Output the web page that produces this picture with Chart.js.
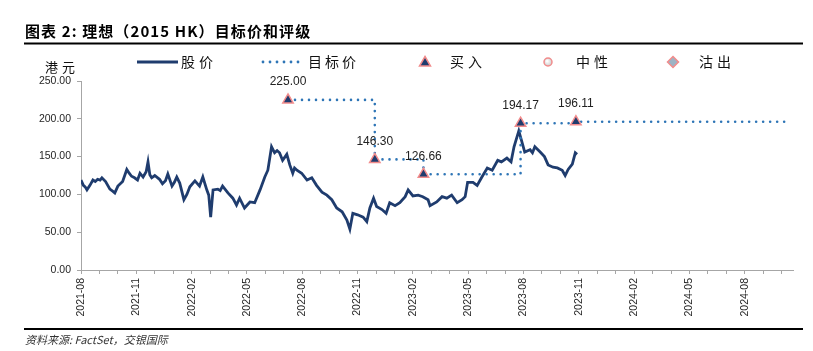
<!DOCTYPE html>
<html>
<head>
<meta charset="utf-8">
<script src="https://cdn.jsdelivr.net/npm/chart.js@4.4.1/dist/chart.umd.min.js"></script>
<style>
body{margin:0;background:#fff;}
#wrap{width:813px;height:351px;position:relative;}
</style>
</head>
<body>
<div id="wrap"><canvas id="ch1" width="813" height="351"></canvas></div>
<script>
// x axis labels, one every 3 months from 2021-08
var tickLabels = ['2021-08','2021-11','2022-02','2022-05','2022-08','2022-11','2023-02','2023-05','2023-08','2023-11','2024-02','2024-05','2024-08'];
var axisEnd = '2024-10-20';

// share price (HKD)
var priceDates = ['2021-08-01','2021-08-05','2021-08-08','2021-08-11','2021-08-16','2021-08-21','2021-08-25','2021-08-29','2021-09-02','2021-09-05','2021-09-11','2021-09-18','2021-09-23','2021-09-26','2021-10-01','2021-10-09','2021-10-16','2021-10-20','2021-10-24','2021-10-29','2021-11-03','2021-11-07','2021-11-12','2021-11-17','2021-11-20','2021-11-23','2021-11-26','2021-12-01','2021-12-09','2021-12-14','2021-12-19','2021-12-23','2021-12-30','2022-01-03','2022-01-07','2022-01-12','2022-01-19','2022-01-24','2022-01-29','2022-02-06','2022-02-13','2022-02-18','2022-02-24','2022-02-27','2022-03-02','2022-03-06','2022-03-14','2022-03-18','2022-03-22','2022-03-31','2022-04-08','2022-04-14','2022-04-19','2022-04-27','2022-05-06','2022-05-14','2022-05-23','2022-05-31','2022-06-05','2022-06-11','2022-06-16','2022-06-20','2022-06-24','2022-06-29','2022-07-06','2022-07-11','2022-07-16','2022-07-19','2022-07-23','2022-07-31','2022-08-09','2022-08-17','2022-08-25','2022-09-03','2022-09-11','2022-09-19','2022-09-27','2022-10-06','2022-10-14','2022-10-19','2022-10-24','2022-11-01','2022-11-10','2022-11-16','2022-11-21','2022-11-27','2022-12-02','2022-12-11','2022-12-18','2022-12-24','2023-01-02','2023-01-10','2023-01-19','2023-01-24','2023-02-01','2023-02-09','2023-02-16','2023-02-24','2023-02-27','2023-03-10','2023-03-19','2023-03-27','2023-04-04','2023-04-13','2023-04-21','2023-04-26','2023-04-30','2023-05-09','2023-05-16','2023-05-24','2023-06-02','2023-06-10','2023-06-19','2023-06-25','2023-07-04','2023-07-11','2023-07-16','2023-07-24','2023-07-29','2023-08-03','2023-08-12','2023-08-16','2023-08-20','2023-08-29','2023-09-05','2023-09-11','2023-09-19','2023-09-26','2023-10-04','2023-10-09','2023-10-14','2023-10-21','2023-10-26','2023-10-29'];
var priceValues = [119,112,110,106,112,119,117,120,119,122,117,107,104,102,111,117,133,128,124,122,119,128,123,130,143,126,122,125,120,114,118,127,111,116,123,115,93,100,110,118,111,123,106,99,70,106,107,105,111,102,95,86,95,82,90,89,106,123,132,163,155,158,155,145,153,139,128,135,132,128,119,122,112,103,99,93,82,77,66,54,75,73,70,64,82,95,84,80,75,89,85,89,97,106,98,99,97,93,85,90,97,95,99,89,93,97,116,116,112,123,135,132,145,143,148,143,163,184,170,156,159,155,163,156,150,139,136,135,132,125,133,140,155,153];

// target price changes (all 买入); last entry just carries the line to the end
var targetDates = ['2022-07-08','2022-11-29','2023-02-17','2023-07-27','2023-10-27','2024-10-11'];
var targetValues = [225.00,146.30,126.66,194.17,196.11,196.11];
var targetRatings = ['买入','买入','买入','买入','买入',''];

var navy = '#1F3C6E';
var dotBlue = '#2E75B6';
var pink = '#F28C8C';

function monthIndex(s){
  var p = s.split('-');
  var y = +p[0], m = +p[1], d = +p[2];
  var dim = new Date(y, m, 0).getDate();
  return (y - 2021) * 12 + (m - 8) + (d - 1) / dim;
}

var pricePts = priceDates.map(function(d, i){ return {x: monthIndex(d), y: priceValues[i]}; });
var targetPts = targetDates.map(function(d, i){ return {x: monthIndex(d), y: targetValues[i]}; });
var targetRadius = targetRatings.map(function(r){ return r ? 6 : 0; });

// draw text char by char with extra spacing
function spaced(ctx, txt, x, y, gap){
  for (var i = 0; i < txt.length; i++){
    ctx.fillText(txt[i], x, y);
    x += ctx.measureText(txt[i]).width + gap;
  }
}

var overlay = {
  id: 'overlay',
  afterDatasetsDraw: function(chart){
    var ctx = chart.ctx;
    var meta = chart.getDatasetMeta(0);
    ctx.save();
    ctx.font = '12px "Liberation Sans", Arial, sans-serif';
    ctx.fillStyle = '#222';
    ctx.textAlign = 'center';
    ctx.textBaseline = 'middle';
    targetRatings.forEach(function(r, i){
      if (!r) return;
      var el = meta.data[i];
      ctx.fillText(targetValues[i].toFixed(2), el.x, el.y - 18);
    });
    ctx.restore();
  },
  afterDraw: function(chart){
    var ctx = chart.ctx;
    ctx.save();
    // title
    ctx.fillStyle = '#000';
    ctx.textBaseline = 'middle';
    ctx.font = 'bold 15px "Noto Sans CJK SC", sans-serif';
    spaced(ctx, '图表 2: 理想（2015 HK）目标价和评级', 25, 31, 1.1);
    ctx.fillRect(24, 42.5, 779, 2);
    ctx.fillRect(24, 328, 779, 2);

    // legend
    ctx.font = '13px "Noto Sans CJK SC", sans-serif';
    ctx.fillStyle = '#111';
    spaced(ctx, '港元', 45, 67, 4);
    ctx.font = '14px "Noto Sans CJK SC", sans-serif';
    spaced(ctx, '股价', 181, 62, 4);
    spaced(ctx, '目标价', 308, 62, 3);
    spaced(ctx, '买入', 450, 62, 4);
    spaced(ctx, '中性', 576, 62, 4);
    spaced(ctx, '沽出', 699, 62, 4);

    ctx.strokeStyle = navy;
    ctx.lineWidth = 2.8;
    ctx.beginPath(); ctx.moveTo(137, 62); ctx.lineTo(178, 62); ctx.stroke();

    ctx.fillStyle = dotBlue;
    for (var dx = 263; dx <= 298; dx += 7){
      ctx.beginPath(); ctx.arc(dx, 62, 1.4, 0, Math.PI * 2); ctx.fill();
    }

    ctx.strokeStyle = pink;
    ctx.lineWidth = 1.5;
    ctx.fillStyle = navy;
    ctx.beginPath(); ctx.moveTo(425, 56.5); ctx.lineTo(430.5, 66); ctx.lineTo(419.5, 66); ctx.closePath();
    ctx.fill(); ctx.stroke();

    var g = ctx.createRadialGradient(547, 61, 0.5, 548, 62, 4.5);
    g.addColorStop(0, '#ffffff'); g.addColorStop(1, '#c8c8c8');
    ctx.fillStyle = g;
    ctx.beginPath(); ctx.arc(548, 62, 4, 0, Math.PI * 2); ctx.fill(); ctx.stroke();

    ctx.fillStyle = '#9DB3C4';
    ctx.beginPath(); ctx.moveTo(673, 56.5); ctx.lineTo(678.5, 62); ctx.lineTo(673, 67.5); ctx.lineTo(667.5, 62); ctx.closePath();
    ctx.fill(); ctx.stroke();

    // source
    ctx.fillStyle = '#333';
    ctx.font = 'italic 11px "Noto Sans CJK SC", sans-serif';
    ctx.fillText('资料来源: FactSet，交银国际', 25, 340);
    ctx.restore();
  }
};

var axisFont = {family: '"Liberation Sans", Arial, sans-serif', size: 10.5};

var chart = new Chart(document.getElementById('ch1').getContext('2d'), {
  type: 'line',
  data: {
    datasets: [{
      label: '目标价',
      data: targetPts,
      stepped: 'before',
      borderColor: dotBlue,
      borderWidth: 2.6,
      borderDash: [0, 7],
      borderCapStyle: 'round',
      fill: false,
      pointStyle: 'triangle',
      pointRadius: targetRadius,
      pointBackgroundColor: navy,
      pointBorderColor: pink,
      pointBorderWidth: 1.5
    }, {
      label: '股价',
      data: pricePts,
      borderColor: navy,
      borderWidth: 2.8,
      pointRadius: 0,
      tension: 0,
      fill: false
    }]
  },
  options: {
    responsive: false,
    animation: false,
    events: [],
    layout: {padding: {left: 21, right: 20, top: 81, bottom: 21}},
    plugins: {legend: {display: false}, tooltip: {enabled: false}},
    scales: {
      x: {
        type: 'linear',
        min: 0,
        max: monthIndex(axisEnd),
        border: {display: true, color: '#A6A6A6', width: 1},
        grid: {display: true, drawOnChartArea: false, drawTicks: true, tickLength: 4, color: '#A6A6A6'},
        ticks: {
          stepSize: 1, autoSkip: false, includeBounds: false,
          maxRotation: 90, minRotation: 90, padding: 4,
          color: '#262626', font: axisFont,
          callback: function(v){ return v % 3 === 0 ? tickLabels[v / 3] : ''; }
        },
        afterFit: function(s){ s.height = 60; }
      },
      y: {
        min: 0,
        max: 250,
        border: {display: true, color: '#A6A6A6', width: 1},
        grid: {display: true, drawOnChartArea: false, drawTicks: true, tickLength: 4, color: '#A6A6A6'},
        ticks: {
          stepSize: 50, padding: 6, color: '#262626', font: axisFont,
          callback: function(v){ return v.toFixed(2); }
        },
        afterFit: function(s){ s.width = 60; }
      }
    }
  },
  plugins: [overlay]
});
</script>
</body>
</html>
